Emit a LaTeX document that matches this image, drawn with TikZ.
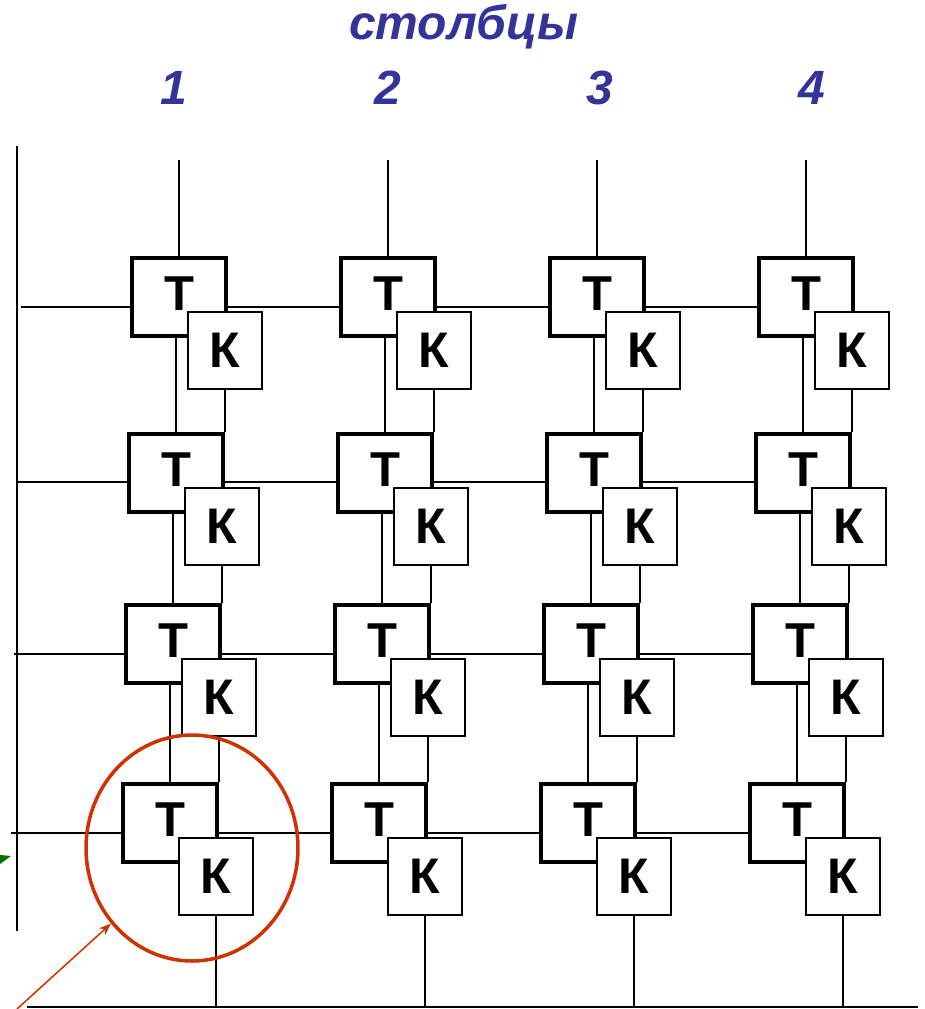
\documentclass[tikz,border=0pt]{standalone}
\usepackage{fontspec}
\setmainfont{Liberation Sans}
\usetikzlibrary{shapes.geometric,arrows.meta,backgrounds}
\definecolor{headblue}{RGB}{51,51,153}
\definecolor{ringred}{RGB}{204,51,0}
\definecolor{tipgreen}{RGB}{0,110,0}

\begin{document}
\begin{tikzpicture}[x=1pt,y=-1pt,
  tbox/.style={draw,line width=4pt,fill=white,minimum width=94pt,minimum height=78pt,
    inner sep=0pt,font=\fontsize{49}{52}\selectfont\bfseries,text depth=7pt},
  kbox/.style={draw,line width=1.8pt,fill=white,minimum width=74pt,minimum height=77pt,
    inner sep=0pt,font=\fontsize{50}{52}\selectfont\bfseries},
  wire/.style={line width=1.8pt},
  rail/.style={line width=2pt},
  heading/.style={text=headblue,font=\fontsize{48}{52}\selectfont\bfseries\itshape,
    anchor=base,inner sep=0pt}]
\useasboundingbox (0,0) rectangle (924,1009);

% headings
\node[heading] (title) at (463.5,39) {столбцы};
\node[heading] (col1) at (173.5,104) {1};
\node[heading] (col2) at (387.5,104) {2};
\node[heading] (col3) at (599.5,104) {3};
\node[heading] (col4) at (811.5,104) {4};

% matrix of cells: a T box with its K box overlapping the lower right corner
\foreach \row/\lft/\tp in {1/130/256,2/127/432,3/124/603,4/121/782}{
  \foreach \col in {1,2,3,4}{
    \pgfmathsetmacro\tx{\lft+49+(\col-1)*209}
    \pgfmathsetmacro\ty{\tp+41}
    \node[tbox] (T\row\col) at (\tx,\ty) {Т};
    \node[kbox] (K\row\col) at (\tx+46,\ty+53.5) {К};
  }
}

\begin{scope}[on background layer]
  % column wires from the top
  \foreach \col in {1,2,3,4}{
    \coordinate (top\col) at ({179+(\col-1)*209},160);
    \draw[wire] (top\col) -- (T1\col.north);
  }
  % wires between rows
  \foreach \row in {1,2,3}{
    \pgfmathtruncatemacro\nxt{\row+1}
    \foreach \col in {1,2,3,4}{
      \draw[wire] (T\row\col.south -| T\nxt\col.north) -- (T\nxt\col.north);
      \draw[wire] (K\row\col.south) -- (K\row\col.south |- T\nxt\col.north);
    }
  }
  % bottom bus
  \coordinate (floor) at (27,1006.5);
  \coordinate (floorend) at (918,1006.5);
  \draw[rail] (floor) -- (floorend);
  \foreach \col in {1,2,3,4}
    \draw[wire] (K4\col.south) -- (K4\col.south |- floor);
  % row wires
  \foreach \row/\lx/\ly in {1/21/307,2/17/482,3/14/654,4/11/833}{
    \coordinate (left\row) at (\lx,\ly);
    \draw[wire] (left\row) -- (left\row -| T\row1.west);
    \foreach \col/\nc in {1/2,2/3,3/4}
      \draw[wire] (T\row\col.east |- left\row) -- (T\row\nc.west |- left\row);
  }
  % left rail
  \coordinate (railtop) at (17,146);
  \coordinate (railbot) at (17,931);
  \draw[rail] (railtop) -- (railbot);
\end{scope}

% highlighted cell
\node[draw=ringred,line width=3.5pt,ellipse,minimum width=212pt,minimum height=226pt,
  inner sep=0pt] (ring) at (192,848) {};
\coordinate (pointer) at (17,1009);
\draw[ringred,line width=1.5pt,-{Stealth[length=12pt,width=9pt]}] (pointer) -- (ring.223);

% green arrow tip at the left edge
\fill[tipgreen] (0,855) -- (11,856) -- (0,864) -- cycle;
\end{tikzpicture}
\end{document}
